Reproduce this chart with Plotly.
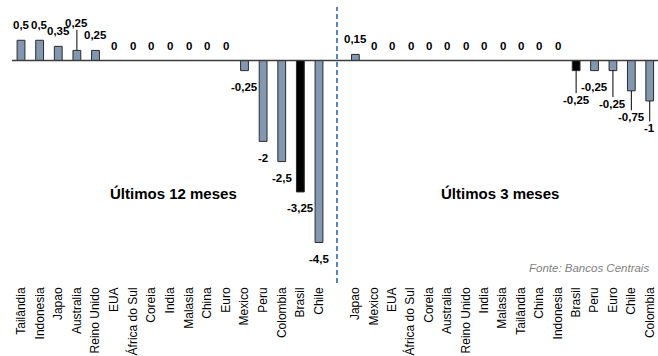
import plotly.graph_objects as go

W, H = 658, 356
MB = 73
PH = H - MB

# ---- data ----
cats_12m = ["Tailândia", "Indonesia", "Japao", "Australia", "Reino Unido", "EUA",
            "África do Sul", "Coreia", "India", "Malasia", "China", "Euro",
            "Mexico", "Peru", "Colombia", "Brasil", "Chile"]
vals_12m = [0.5, 0.5, 0.35, 0.25, 0.25, 0, 0, 0, 0, 0, 0, 0,
            -0.25, -2, -2.5, -3.25, -4.5]
cats_3m = ["Japao", "Mexico", "EUA", "África do Sul", "Coreia", "Australia",
           "Reino Unido", "India", "Malasia", "Tailândia", "China", "Indonesia",
           "Brasil", "Peru", "Euro", "Chile", "Colombia"]
vals_3m = [0.15, 0, 0, 0, 0, 0, 0, 0, 0, 0, 0, 0, -0.25, -0.25, -0.25, -0.75, -1]
title_12m = "Últimos 12 meses"
title_3m = "Últimos 3 meses"
source = "Fonte: Bancos Centrais"

# ---- style ----
BAR = "#8497b0"
HIGHLIGHT = "Brasil"
FONT = "Liberation Sans, Arial, sans-serif"

def fmt(v):
    return ("%g" % v).replace(".", ",")

def colors(cats):
    return ["#000000" if c == HIGHLIGHT else BAR for c in cats]

fig = go.Figure()
fig.add_trace(go.Bar(x=cats_12m, y=vals_12m, xaxis="x", yaxis="y",
                     marker=dict(color=colors(cats_12m), line=dict(color="#2b2b2b", width=1)),
                     width=0.42, showlegend=False, hoverinfo="skip"))
fig.add_trace(go.Bar(x=cats_3m, y=vals_3m, xaxis="x2", yaxis="y",
                     marker=dict(color=colors(cats_3m), line=dict(color="#2b2b2b", width=1)),
                     width=0.42, showlegend=False, hoverinfo="skip"))

ann = []
lab_font = dict(family=FONT, size=11.5, color="#000000")
# leader-line labels: (panel, category) -> pixel offset
leaders = {("x", "Australia"): -27, ("x2", "Brasil"): 29, ("x2", "Euro"): 33,
           ("x2", "Chile"): 26, ("x2", "Colombia"): 27}
for xref, cats, vals in (("x", cats_12m, vals_12m), ("x2", cats_3m, vals_3m)):
    for c, v in zip(cats, vals):
        t = "<b>%s</b>" % fmt(v)
        if (xref, c) in leaders:
            ann.append(dict(x=c, y=v, xref=xref, yref="y", text=t, font=lab_font,
                            showarrow=True, arrowhead=0, arrowwidth=1, arrowcolor="#000000",
                            ax=0, ay=leaders[(xref, c)], standoff=0, startstandoff=0,
                            borderpad=0))
        else:
            ann.append(dict(x=c, y=v, xref=xref, yref="y", text=t, font=lab_font,
                            showarrow=False, yanchor="middle", xanchor="center",
                            yshift=15 if v >= 0 else -16.5))

ann.append(dict(x=173 / W, y=1 - 193 / PH, xref="paper", yref="paper", text="<b>%s</b>" % title_12m,
                showarrow=False, xanchor="center", yanchor="middle",
                font=dict(family=FONT, size=15, color="#000")))
ann.append(dict(x=500 / W, y=1 - 193 / PH, xref="paper", yref="paper", text="<b>%s</b>" % title_3m,
                showarrow=False, xanchor="center", yanchor="middle",
                font=dict(family=FONT, size=15, color="#000")))
ann.append(dict(x=651 / W, y=1 - 268 / PH, xref="paper", yref="paper", text="<i>%s</i>" % source,
                showarrow=False, xanchor="right", yanchor="middle",
                font=dict(family=FONT, size=11.5, color="#7f7f7f")))

shapes = [
    dict(type="line", xref="paper", yref="y", x0=12 / W, x1=1, y0=0, y1=0,
         line=dict(color="#3c3c3c", width=1.3)),
    dict(type="line", xref="paper", yref="paper", x0=337 / W, x1=337 / W, y0=0, y1=1 - 7 / PH,
         line=dict(color="#1f5fa8", width=1.5, dash="5px,3px")),
]

px_per_unit = 40.44
y_top = 60.5 / px_per_unit
y_bot = -(PH - 60.5) / px_per_unit

tick_font = dict(family=FONT, size=12, color="#000000")
fig.update_layout(
    width=W, height=H,
    margin=dict(l=0, r=0, t=0, b=MB, autoexpand=False),
    paper_bgcolor="white", plot_bgcolor="white",
    xaxis=dict(domain=[11.7 / W, 328.3 / W], range=[-0.5, 16.5], tickangle=-90,
               showgrid=False, zeroline=False, showline=False, ticks="", automargin=False,
               ticklabelstandoff=1, tickfont=tick_font, fixedrange=True),
    xaxis2=dict(domain=[346.2 / W, 1], range=[-0.5, 16.45], tickangle=-90, anchor="y",
                showgrid=False, zeroline=False, showline=False, ticks="", automargin=False,
                ticklabelstandoff=1, tickfont=tick_font, fixedrange=True),
    yaxis=dict(range=[y_bot, y_top], visible=False, fixedrange=True, automargin=False),
    annotations=ann, shapes=shapes,
)
fig.write_html("out.html")
